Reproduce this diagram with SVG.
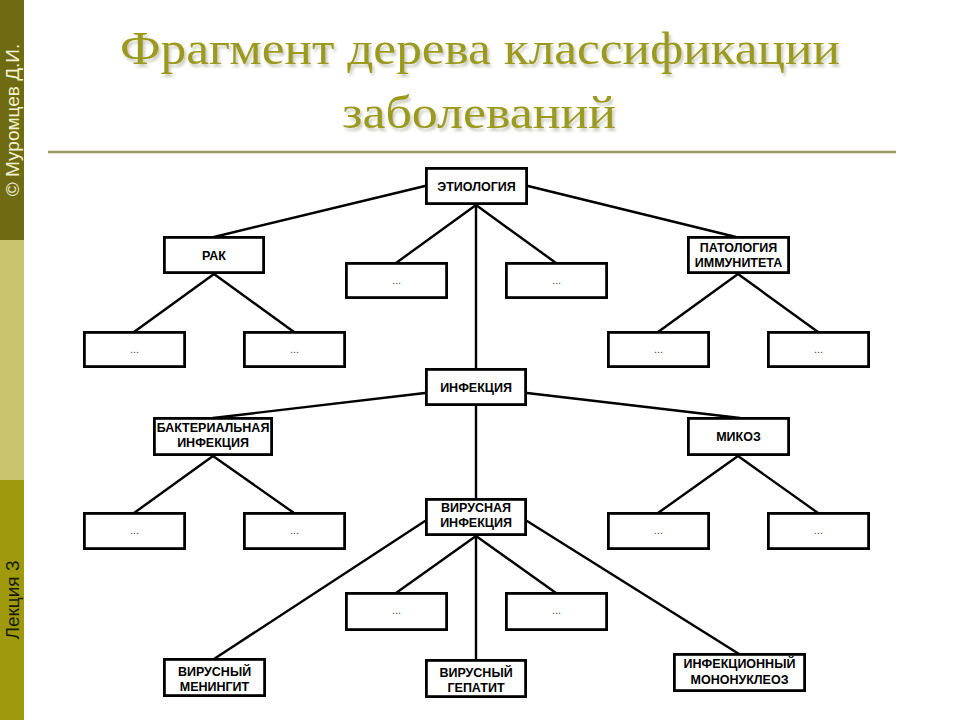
<svg xmlns="http://www.w3.org/2000/svg" width="960" height="720" viewBox="0 0 960 720">
<defs>
<filter id="sh" x="-5%" y="-20%" width="110%" height="150%">
<feDropShadow dx="2" dy="3" stdDeviation="1.5" flood-color="#9c9c80" flood-opacity="0.55"/>
</filter>
<style>
.box{fill:#fff;stroke:#000;stroke-width:2.8}
.lbl{font-family:"Liberation Sans",Arial,sans-serif;font-weight:bold;font-size:12.5px;fill:#000;text-anchor:middle}
.dots{font-family:"Liberation Sans",Arial,sans-serif;font-size:11px;fill:#444;text-anchor:middle}
.con line{stroke:#000;stroke-width:2.4;stroke-linecap:round}
.title{font-family:"Liberation Serif","Times New Roman",serif;font-size:47px;fill:#9b9a1f;text-anchor:middle}
.side{font-family:"Liberation Sans",Arial,sans-serif;font-size:19px;text-anchor:middle}
</style>
</defs>
<rect width="960" height="720" fill="#fff"/>
<g id="sidebar">
<rect x="0" y="0" width="24" height="240" fill="#6e6b12"/>
<rect x="0" y="240" width="24" height="240" fill="#c9c46e"/>
<rect x="0" y="480" width="24" height="240" fill="#9e9a0c"/>
<text class="side" fill="#f4f0cc" transform="translate(19,120) rotate(-90)">© Муромцев Д.И.</text>
<text class="side" fill="#1a1a00" transform="translate(19,600) rotate(-90)">Лекция 3</text>
</g>
<g id="title" filter="url(#sh)">
<text class="title" x="480" y="64" textLength="720" lengthAdjust="spacingAndGlyphs">Фрагмент дерева классификации</text>
<text class="title" x="479" y="128" textLength="274" lengthAdjust="spacingAndGlyphs">заболеваний</text>
</g>
<line x1="48" y1="152" x2="896" y2="152" stroke="#9e9860" stroke-width="2.5"/>
<g id="connectors" class="con">
<line x1="425" y1="186" x2="214" y2="237"/>
<line x1="528" y1="186" x2="736" y2="237"/>
<line x1="476" y1="205" x2="396" y2="263"/>
<line x1="476" y1="205" x2="556" y2="263"/>
<line x1="476" y1="205" x2="476" y2="369"/>
<line x1="214" y1="274" x2="134" y2="332"/>
<line x1="214" y1="274" x2="294" y2="332"/>
<line x1="738" y1="274" x2="658" y2="332"/>
<line x1="738" y1="274" x2="818" y2="332"/>
<line x1="425" y1="393" x2="213" y2="418"/>
<line x1="527" y1="393" x2="740" y2="418"/>
<line x1="476" y1="406" x2="476" y2="499"/>
<line x1="213" y1="456" x2="134" y2="513"/>
<line x1="213" y1="456" x2="294" y2="513"/>
<line x1="738" y1="456" x2="658" y2="513"/>
<line x1="738" y1="456" x2="818" y2="513"/>
<line x1="425" y1="521" x2="214" y2="659"/>
<line x1="527" y1="521" x2="739" y2="654"/>
<line x1="476" y1="536" x2="396" y2="593"/>
<line x1="476" y1="536" x2="556" y2="593"/>
<line x1="476" y1="536" x2="476" y2="660"/>
</g>
<g id="n-etiology"><rect class="box" x="426.4" y="168.4" width="100.2" height="35.2"/><text class="lbl" x="476.5" y="190.5">ЭТИОЛОГИЯ</text></g>
<g id="n-rak"><rect class="box" x="164.4" y="237.4" width="99.2" height="35.2"/><text class="lbl" x="214" y="259.5">РАК</text></g>
<g id="n-e1"><rect class="box" x="346.4" y="263.4" width="100.2" height="34.2"/><text class="dots" x="396.5" y="284">...</text></g>
<g id="n-e2"><rect class="box" x="506.4" y="263.4" width="100.2" height="34.2"/><text class="dots" x="556.5" y="284">...</text></g>
<g id="n-patimm"><rect class="box" x="688.4" y="237.4" width="100.2" height="35.2"/><text class="lbl" x="738.5" y="252">ПАТОЛОГИЯ</text><text class="lbl" x="738.5" y="267">ИММУНИТЕТА</text></g>
<g id="n-rak1"><rect class="box" x="84.4" y="332.4" width="100.2" height="34.2"/><text class="dots" x="134.5" y="353">...</text></g>
<g id="n-rak2"><rect class="box" x="244.4" y="332.4" width="100.2" height="34.2"/><text class="dots" x="294.5" y="353">...</text></g>
<g id="n-pi1"><rect class="box" x="608.4" y="332.4" width="100.2" height="34.2"/><text class="dots" x="658.5" y="353">...</text></g>
<g id="n-pi2"><rect class="box" x="768.4" y="332.4" width="100.2" height="34.2"/><text class="dots" x="818.5" y="353">...</text></g>
<g id="n-infection"><rect class="box" x="426.4" y="369.4" width="99.2" height="35.2"/><text class="lbl" x="476" y="391.5">ИНФЕКЦИЯ</text></g>
<g id="n-bact"><rect class="box" x="154.4" y="418.4" width="117.2" height="36.2"/><text class="lbl" x="213" y="432">БАКТЕРИАЛЬНАЯ</text><text class="lbl" x="213" y="447">ИНФЕКЦИЯ</text></g>
<g id="n-mikoz"><rect class="box" x="688.4" y="418.4" width="100.2" height="36.2"/><text class="lbl" x="738.5" y="441">МИКОЗ</text></g>
<g id="n-b1"><rect class="box" x="84.4" y="513.4" width="100.2" height="35.2"/><text class="dots" x="134.5" y="534">...</text></g>
<g id="n-b2"><rect class="box" x="244.4" y="513.4" width="100.2" height="35.2"/><text class="dots" x="294.5" y="534">...</text></g>
<g id="n-m1"><rect class="box" x="608.4" y="513.4" width="100.2" height="35.2"/><text class="dots" x="658.5" y="534">...</text></g>
<g id="n-m2"><rect class="box" x="768.4" y="513.4" width="100.2" height="35.2"/><text class="dots" x="818.5" y="534">...</text></g>
<g id="n-viral"><rect class="box" x="426.4" y="499.4" width="99.2" height="35.2"/><text class="lbl" x="476" y="512">ВИРУСНАЯ</text><text class="lbl" x="476" y="527">ИНФЕКЦИЯ</text></g>
<g id="n-v1"><rect class="box" x="346.4" y="593.4" width="100.2" height="36.2"/><text class="dots" x="396.5" y="614">...</text></g>
<g id="n-v2"><rect class="box" x="506.4" y="593.4" width="100.2" height="36.2"/><text class="dots" x="556.5" y="614">...</text></g>
<g id="n-meningitis"><rect class="box" x="164.4" y="659.4" width="100.2" height="36.2"/><text class="lbl" x="214.5" y="676">ВИРУСНЫЙ</text><text class="lbl" x="214.5" y="691">МЕНИНГИТ</text></g>
<g id="n-hepatitis"><rect class="box" x="426.4" y="660.4" width="99.2" height="36.2"/><text class="lbl" x="476" y="677">ВИРУСНЫЙ</text><text class="lbl" x="476" y="692">ГЕПАТИТ</text></g>
<g id="n-mono"><rect class="box" x="674.4" y="654.4" width="130.2" height="36.2"/><text class="lbl" x="739.5" y="668">ИНФЕКЦИОННЫЙ</text><text class="lbl" x="739.5" y="684">МОНОНУКЛЕОЗ</text></g>
</svg>
